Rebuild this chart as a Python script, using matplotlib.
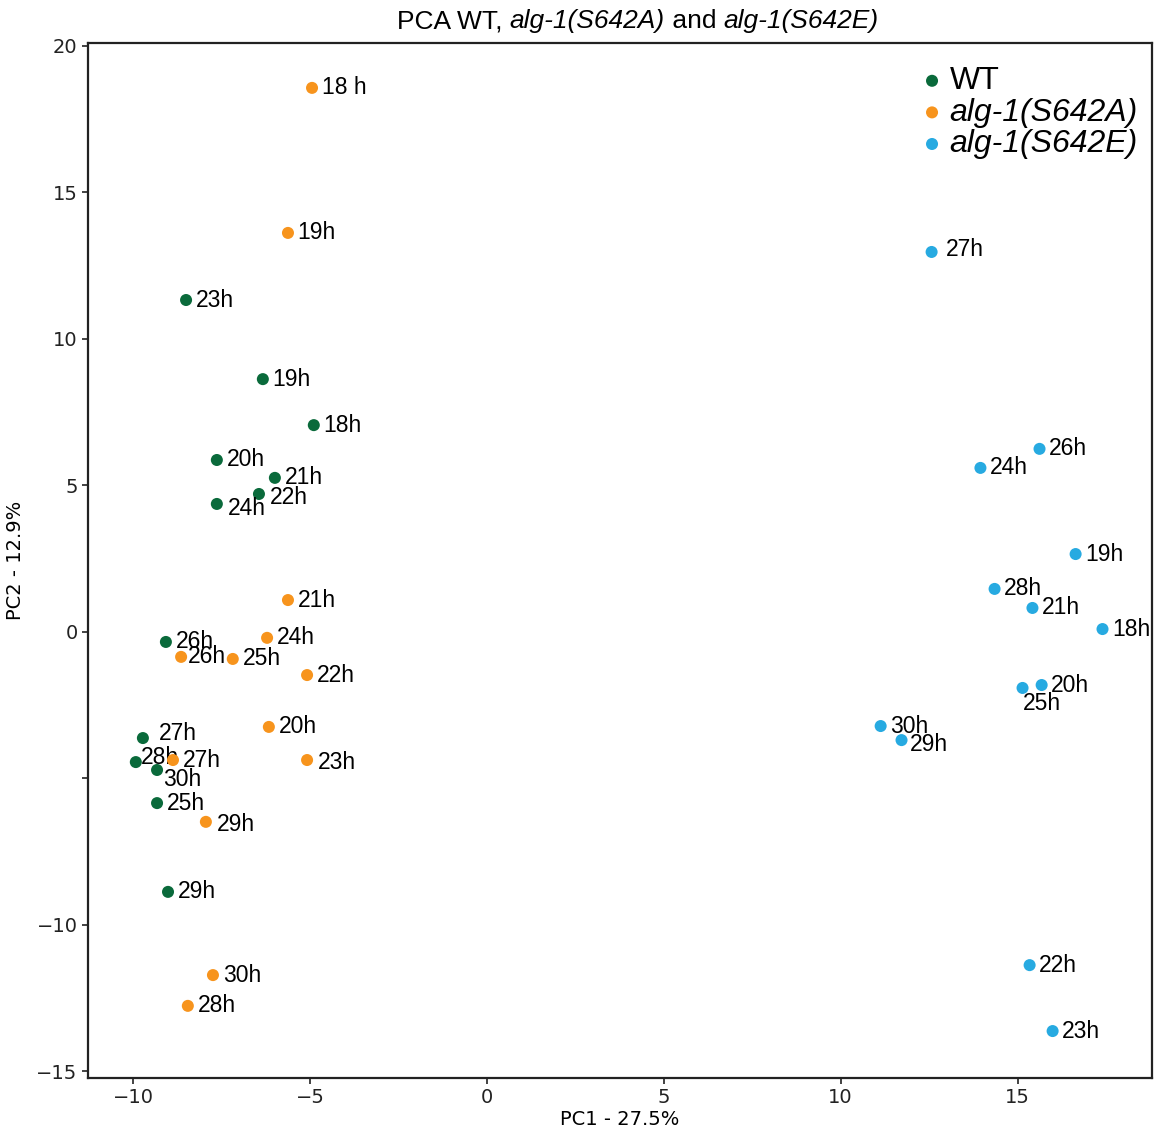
#PCA plot of WT and the two alg-1 mutants, each time point labelled
import numpy as np
import matplotlib.pyplot as plt

# WT
wt_lab = ['23h', '19h', '18h', '20h', '21h', '22h', '24h', '26h', '27h', '28h', '30h', '25h', '29h']
wt_x = [-8.50, -6.33, -4.89, -7.63, -5.99, -6.44, -7.63, -9.07, -9.72, -9.92, -9.32, -9.32, -9.01]
wt_y = [11.33, 8.63, 7.06, 5.87, 5.26, 4.71, 4.37, -0.34, -3.62, -4.44, -4.71, -5.84, -8.87]

# alg-1(S642A)
sa_lab = ['18 h', '19h', '21h', '24h', '26h', '25h', '22h', '20h', '27h', '23h', '29h', '30h', '28h']
sa_x = [-4.94, -5.62, -5.62, -6.21, -8.64, -7.18, -5.08, -6.16, -8.87, -5.08, -7.94, -7.74, -8.45]
sa_y = [18.57, 13.62, 1.09, -0.20, -0.85, -0.92, -1.47, -3.24, -4.37, -4.37, -6.48, -11.71, -12.76]

# alg-1(S642E)
se_lab = ['27h', '26h', '24h', '19h', '28h', '21h', '18h', '20h', '25h', '30h', '29h', '22h', '23h']
se_x = [12.57, 15.62, 13.95, 16.64, 14.35, 15.42, 17.40, 15.68, 15.14, 11.13, 11.72, 15.34, 15.99]
se_y = [12.97, 6.25, 5.60, 2.66, 1.47, 0.82, 0.10, -1.81, -1.91, -3.21, -3.69, -11.37, -13.62]

green = '#0a6a3b'
orange = '#f7941d'
blue = '#27aae1'

# label nudges (points) where the default would not match
nudge = {
    ('WT', '27h'): (11.5, 3),
    ('WT', '28h'): (3.5, 3),
    ('WT', '30h'): (4.5, -6.5),
    ('WT', '24h'): (8, -3),
    ('WT', '22h'): (8, -2.5),
    ('A', '26h'): (5, 0),
    ('A', '29h'): (8, -2),
    ('A', '23h'): (8, -2),
    ('B', '25h'): (0, -11.5),
    ('B', '29h'): (6, -3.5),
    ('B', '27h'): (10, 2),
}

fig = plt.figure(figsize=(11.54, 11.33), dpi=100)
ax = fig.add_axes([0.0763, 0.0486, 0.9217, 0.9134])

groups = [('WT', wt_x, wt_y, wt_lab, green, 'WT'),
          ('A', sa_x, sa_y, sa_lab, orange, 'alg-1(S642A)'),
          ('B', se_x, se_y, se_lab, blue, 'alg-1(S642E)')]

for key, xs, ys, labs, col, name in groups:
    ax.scatter(xs, ys, s=75, color=col, edgecolors='none', label=name, zorder=3)
    for xi, yi, l in zip(xs, ys, labs):
        dx, dy = nudge.get((key, l), (7, 0))
        ax.annotate(l, (xi, yi), xytext=(dx, dy), textcoords='offset points',
                    ha='left', va='center', fontsize=16.5, family='Liberation Sans')

ax.set_xlim(-11.27, 18.79)
ax.set_ylim(-15.22, 20.1)
ax.set_xticks([-10, -5, 0, 5, 10, 15])
ax.set_yticks([-15, -10, -5, 0, 5, 10, 15, 20])
ax.set_yticklabels(['\u221215', '\u221210', '', '0', '5', '10', '15', '20'])
ax.tick_params(labelsize=14, length=4, width=1.2, colors='#222222')
for sp in ax.spines.values():
    sp.set_linewidth(1.6)
    sp.set_color('#222222')

ax.set_xlabel('PC1 - 27.5%', fontsize=14, labelpad=2)
ax.set_ylabel('PC2 - 12.9%', fontsize=14, labelpad=8)

leg = ax.legend(loc='upper right', bbox_to_anchor=(0.999, 0.990), frameon=False,
                prop={'family': 'Liberation Sans', 'size': 23},
                handlelength=0.8, handletextpad=0.15, labelspacing=0.05,
                borderaxespad=0)
for t in leg.get_texts()[1:]:
    t.set_style('italic')

# title with italic genotype names
parts = [('PCA WT, ', 'normal'), ('alg-1(S642A)', 'italic'),
         (' and ', 'normal'), ('alg-1(S642E)', 'italic')]
texts = []
for s, st in parts:
    texts.append(fig.text(0, 0.975, s, fontsize=19, family='Liberation Sans',
                          style=st, ha='left', va='baseline'))
fig.canvas.draw()
r = fig.canvas.get_renderer()
widths = [t.get_window_extent(r).width for t in texts]
W = fig.get_figwidth() * fig.dpi
x = (638 - sum(widths) / 2) / W
for t, w in zip(texts, widths):
    t.set_position((x, 0.975))
    x += w / W

plt.savefig('out.png', dpi=100)
